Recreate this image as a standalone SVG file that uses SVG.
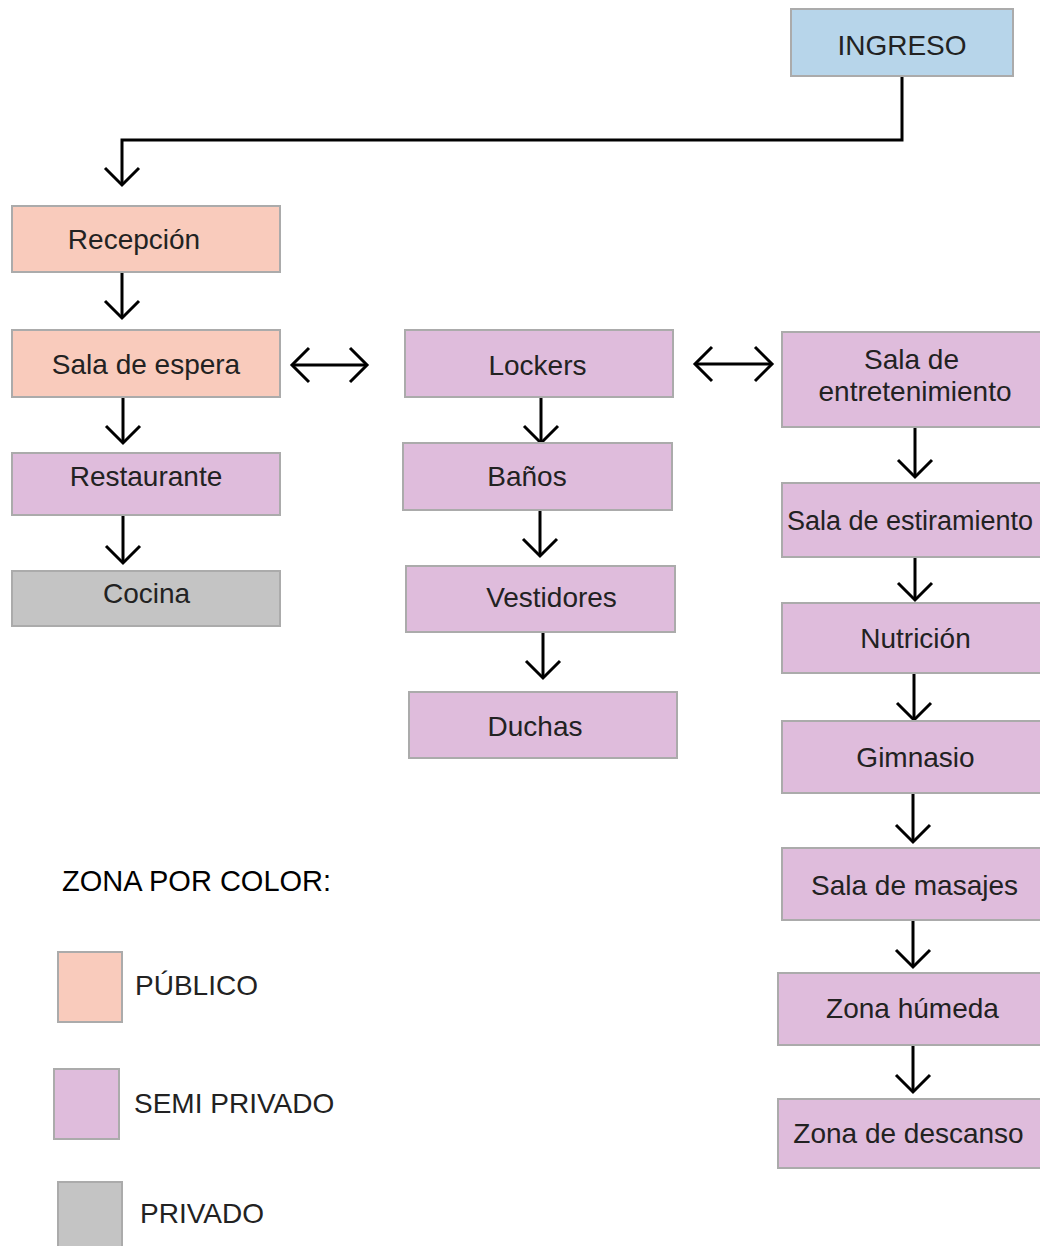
<svg xmlns="http://www.w3.org/2000/svg" width="1040" height="1246" viewBox="0 0 1040 1246">
<style>
  .box { stroke: #ababab; stroke-width: 2; }
  .ing { fill: #b7d5ea; }
  .pub { fill: #f9cbbc; }
  .semi { fill: #dfbcdc; }
  .priv { fill: #c4c4c4; }
  text { font-family: "Liberation Sans", Arial, sans-serif; font-size: 28px; fill: #222; }
  .mid { text-anchor: middle; }
  .legtitle { fill: #000; font-size: 29px; }
  .conn { fill: none; stroke: #000; stroke-width: 3; }
</style>
<defs>
  <marker id="chev" markerUnits="userSpaceOnUse" markerWidth="40" markerHeight="40" viewBox="-20 -20 40 40" refX="0" refY="0" orient="auto-start-reverse">
    <path d="M-17,-17 L0,0 L-17,17" fill="none" stroke="#000" stroke-width="3"/>
  </marker>
</defs>
<rect width="1040" height="1246" fill="#fff"/>

<g id="connectors">
  <path class="conn" d="M902,76 V140 H122 V185" marker-end="url(#chev)"/>
  <path class="conn" d="M122,272 V318" marker-end="url(#chev)"/>
  <path class="conn" d="M292,365 H367" marker-start="url(#chev)" marker-end="url(#chev)"/>
  <path class="conn" d="M695,364 H772" marker-start="url(#chev)" marker-end="url(#chev)"/>
  <path class="conn" d="M123,397 V443" marker-end="url(#chev)"/>
  <path class="conn" d="M123,515 V563" marker-end="url(#chev)"/>
  <path class="conn" d="M541,397 V443" marker-end="url(#chev)"/>
  <path class="conn" d="M540,510 V556" marker-end="url(#chev)"/>
  <path class="conn" d="M543,632 V678" marker-end="url(#chev)"/>
  <path class="conn" d="M915,427 V477" marker-end="url(#chev)"/>
  <path class="conn" d="M915,557 V600" marker-end="url(#chev)"/>
  <path class="conn" d="M914,673 V720" marker-end="url(#chev)"/>
  <path class="conn" d="M913,793 V842" marker-end="url(#chev)"/>
  <path class="conn" d="M913,920 V967" marker-end="url(#chev)"/>
  <path class="conn" d="M913,1045 V1092" marker-end="url(#chev)"/>
</g>

<g id="ingreso">
  <rect class="box ing" x="791" y="9" width="222" height="67"/>
  <text class="mid" x="902" y="55">INGRESO</text>
</g>
<g id="recepcion">
  <rect class="box pub" x="12" y="206" width="268" height="66"/>
  <text class="mid" x="134" y="249">Recepción</text>
</g>
<g id="sala-espera">
  <rect class="box pub" x="12" y="330" width="268" height="67"/>
  <text class="mid" x="146" y="374">Sala de espera</text>
</g>
<g id="restaurante">
  <rect class="box semi" x="12" y="453" width="268" height="62"/>
  <text class="mid" x="146" y="486">Restaurante</text>
</g>
<g id="cocina">
  <rect class="box priv" x="12" y="571" width="268" height="55"/>
  <text class="mid" x="146.5" y="603">Cocina</text>
</g>
<g id="lockers">
  <rect class="box semi" x="405" y="330" width="268" height="67"/>
  <text class="mid" x="537.5" y="375">Lockers</text>
</g>
<g id="banos">
  <rect class="box semi" x="403" y="443" width="269" height="67"/>
  <text class="mid" x="527" y="486">Baños</text>
</g>
<g id="vestidores">
  <rect class="box semi" x="406" y="566" width="269" height="66"/>
  <text class="mid" x="551.5" y="607">Vestidores</text>
</g>
<g id="duchas">
  <rect class="box semi" x="409" y="692" width="268" height="66"/>
  <text class="mid" x="535" y="736">Duchas</text>
</g>
<g id="sala-entretenimiento">
  <rect class="box semi" x="782" y="332" width="280" height="95"/>
  <text class="mid" x="911.5" y="369">Sala de</text>
  <text class="mid" x="915" y="401">entretenimiento</text>
</g>
<g id="sala-estiramiento">
  <rect class="box semi" x="782" y="483" width="280" height="74"/>
  <text x="787" y="530" style="font-size:27px">Sala de estiramiento</text>
</g>
<g id="nutricion">
  <rect class="box semi" x="782" y="603" width="280" height="70"/>
  <text class="mid" x="915.5" y="648">Nutrición</text>
</g>
<g id="gimnasio">
  <rect class="box semi" x="782" y="721" width="280" height="72"/>
  <text class="mid" x="915.5" y="767">Gimnasio</text>
</g>
<g id="sala-masajes">
  <rect class="box semi" x="782" y="848" width="280" height="72"/>
  <text class="mid" x="914.5" y="895">Sala de masajes</text>
</g>
<g id="zona-humeda">
  <rect class="box semi" x="778" y="973" width="284" height="72"/>
  <text class="mid" x="912.5" y="1018">Zona húmeda</text>
</g>
<g id="zona-descanso">
  <rect class="box semi" x="778" y="1099" width="284" height="69"/>
  <text class="mid" x="908.5" y="1143">Zona de descanso</text>
</g>

<g id="legend">
  <text class="legtitle" x="62" y="891">ZONA POR COLOR:</text>
  <rect class="box pub" x="58" y="952" width="64" height="70"/>
  <text x="135" y="995">PÚBLICO</text>
  <rect class="box semi" x="54" y="1069" width="65" height="70"/>
  <text x="134" y="1113">SEMI PRIVADO</text>
  <rect class="box priv" x="58" y="1182" width="64" height="80"/>
  <text x="140" y="1223">PRIVADO</text>
</g>
</svg>
